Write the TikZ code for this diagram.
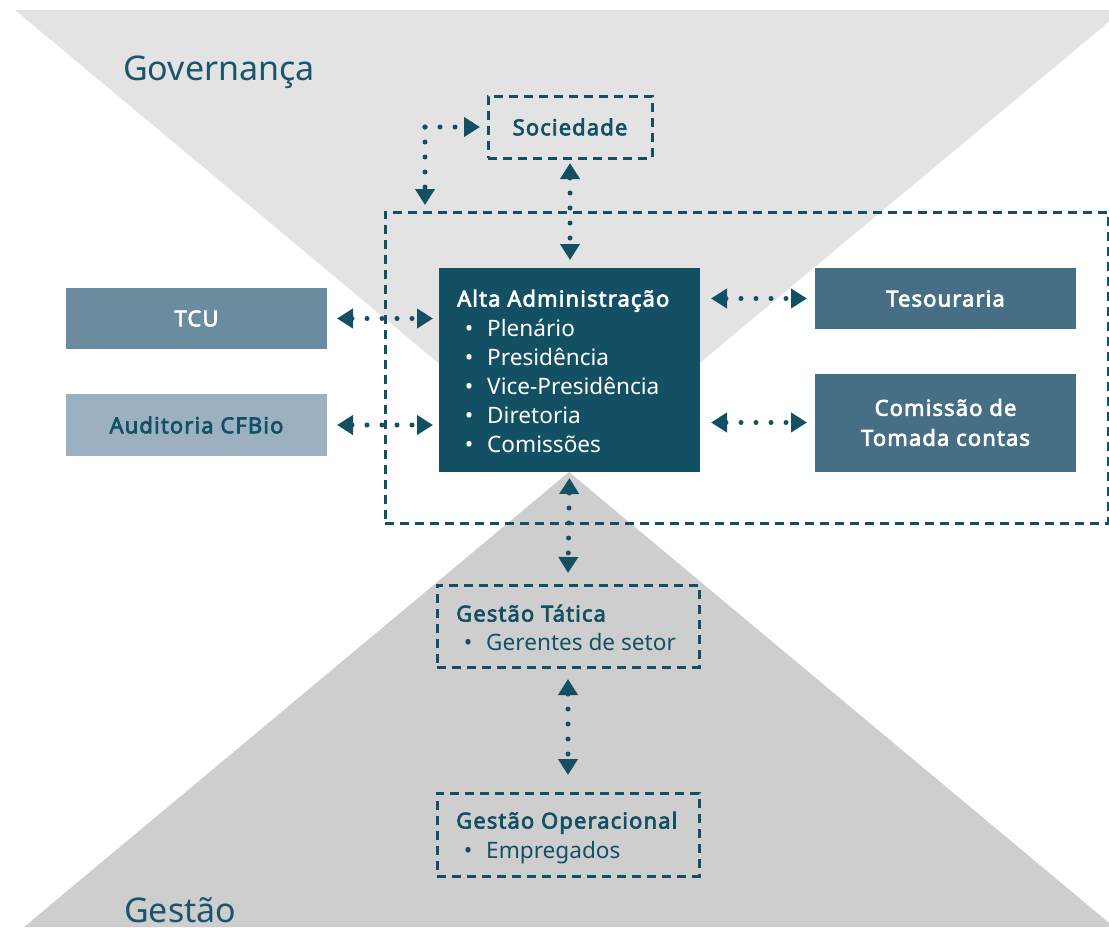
\documentclass[tikz,border=0pt]{standalone}
\usepackage{fontspec}
\setmainfont{Noto Sans}[BoldFont={Noto Sans}, BoldFeatures={FakeBold=3, LetterSpace=5}]
\usetikzlibrary{arrows.meta,calc}
\definecolor{teal1}{HTML}{145064}
\definecolor{cTCU}{HTML}{6B8B9E}
\definecolor{cAud}{HTML}{9BB0C0}
\definecolor{cTes}{HTML}{466E84}
\definecolor{cTop}{HTML}{E3E3E3}
\definecolor{cBot}{HTML}{CECECE}
\definecolor{cGov}{HTML}{1A5569}
\begin{document}
\begin{tikzpicture}[x=1pt,y=-1pt,
  boldtxt/.style={font={\fontsize{22}{30}\selectfont\bfseries}},
  regtxt/.style={font={\fontsize{22.6}{29}\selectfont}},
  solidbox/.style={boldtxt, inner sep=0pt, outer sep=0pt, minimum width=261pt, align=center},
  dbox/.style={boldtxt, draw=teal1, line width=3pt, dash pattern=on 9pt off 6pt, inner sep=0pt, outer sep=0pt, text=teal1},
  dotline/.style={teal1, line width=5pt, line cap=round, dash pattern=on 0pt off 15pt},
  dotarr/.style={dotline, {Triangle[length=16pt,width=19pt]}-{Triangle[length=16pt,width=19pt]}},
  dotone/.style={dotline, -{Triangle[length=16pt,width=19pt]}},
  bigtxt/.style={font={\fontsize{34}{40}\selectfont}, text=cGov, inner sep=0pt, anchor=base west},
  itemtxt/.style={regtxt, inner sep=0pt, anchor=base west},
  titletxt/.style={boldtxt, inner sep=0pt, anchor=base west}
]
\useasboundingbox (0,0) rectangle (1109,927);
\clip (0,0) rectangle (1109,927);
% hourglass background
\fill[cTop] (15,10) -- (1123,10) -- (569,472) -- cycle;
\fill[cBot] (569,472) -- (1114,927) -- (24,927) -- cycle;

\node[bigtxt] (gov) at (123,80) {Governança};
\node[bigtxt] (gest) at (124,922) {Gestão};

% outer dashed frame
\node[dbox, minimum width=723pt, minimum height=311pt] (outer) at (746.5,367.5) {};

% boxes
\node[dbox, minimum width=164pt, minimum height=62pt] (soc) at (570,127) {Sociedade};
\node[solidbox, fill=cTCU, text=white, minimum height=61pt] (tcu) at (196.5,318.5) {TCU};
\node[solidbox, fill=cAud, text=teal1, minimum height=62pt] (aud) at (196.5,425) {Auditoria CFBio};
\node[solidbox, fill=cTes, text=white, minimum height=61pt] (tes) at (945.5,298.5) {Tesouraria};
\node[solidbox, fill=cTes, text=white, minimum height=98pt] (com) at (945.5,422.5) {Comissão de\\Tomada contas};
\node[solidbox, fill=teal1, minimum height=204pt] (alta) at (569.5,370) {};
\node[dbox, minimum width=262pt, minimum height=82pt] (tat) at (568,626) {};
\node[dbox, minimum width=262pt, minimum height=83pt] (oper) at (568,834.5) {};

% texts in Alta Administracao
\node[titletxt, text=white] (altat) at (457,306.5) {Alta Administração};
\node[itemtxt, text=white] (alta1) at (487,336) {\llap{\makebox[36pt]{•}}Plenário};
\node[itemtxt, text=white] (alta2) at (487,365) {\llap{\makebox[36pt]{•}}Presidência};
\node[itemtxt, text=white] (alta3) at (487,394) {\llap{\makebox[36pt]{•}}Vice-Presidência};
\node[itemtxt, text=white] (alta4) at (487,423) {\llap{\makebox[36pt]{•}}Diretoria};
\node[itemtxt, text=white] (alta5) at (487,452) {\llap{\makebox[36pt]{•}}Comissões};

% texts in Gestao Tatica / Operacional
\node[titletxt, text=teal1] (tatt) at (456,621.5) {Gestão Tática};
\node[itemtxt, text=teal1] (tat1) at (486,650) {\llap{\makebox[36pt]{•}}Gerentes de setor};
\node[titletxt, text=teal1] (opert) at (456,828.5) {Gestão Operacional};
\node[itemtxt, text=teal1] (oper1) at (486,858) {\llap{\makebox[36pt]{•}}Empregados};

% connectors
\coordinate (corner) at (425,127);
\draw[dotone] (corner) -- ($(soc.west)+(-8,0)$);
\draw[dotone] (corner) -- ($(corner |- outer.north)+(0,-7)$);
\draw[dotarr] ($(soc.south)+(0,5)$) -- ($(soc.south |- alta.north)+(0,-8)$);
\draw[dotarr] ($(tcu.east)+(10,0)$) -- ($(tcu.east -| alta.west)+(-6,0)$);
\draw[dotarr] ($(aud.east)+(10,0)$) -- ($(aud.east -| alta.west)+(-6,0)$);
\draw[dotarr] ($(tes.west -| alta.east)+(11,0)$) -- ($(tes.west)+(-8,0)$);
\draw[dotarr] ($(com.west -| alta.east)+(11,0)$) -- ($(com.west)+(-8,0)$);
\draw[dotarr] ($(alta.south)+(0,6)$) -- ($(tat.north)+(0,-12)$);
\draw[dotarr] ($(tat.south)+(0,12)$) -- ($(oper.north)+(0,-18)$);
\end{tikzpicture}
\end{document}
